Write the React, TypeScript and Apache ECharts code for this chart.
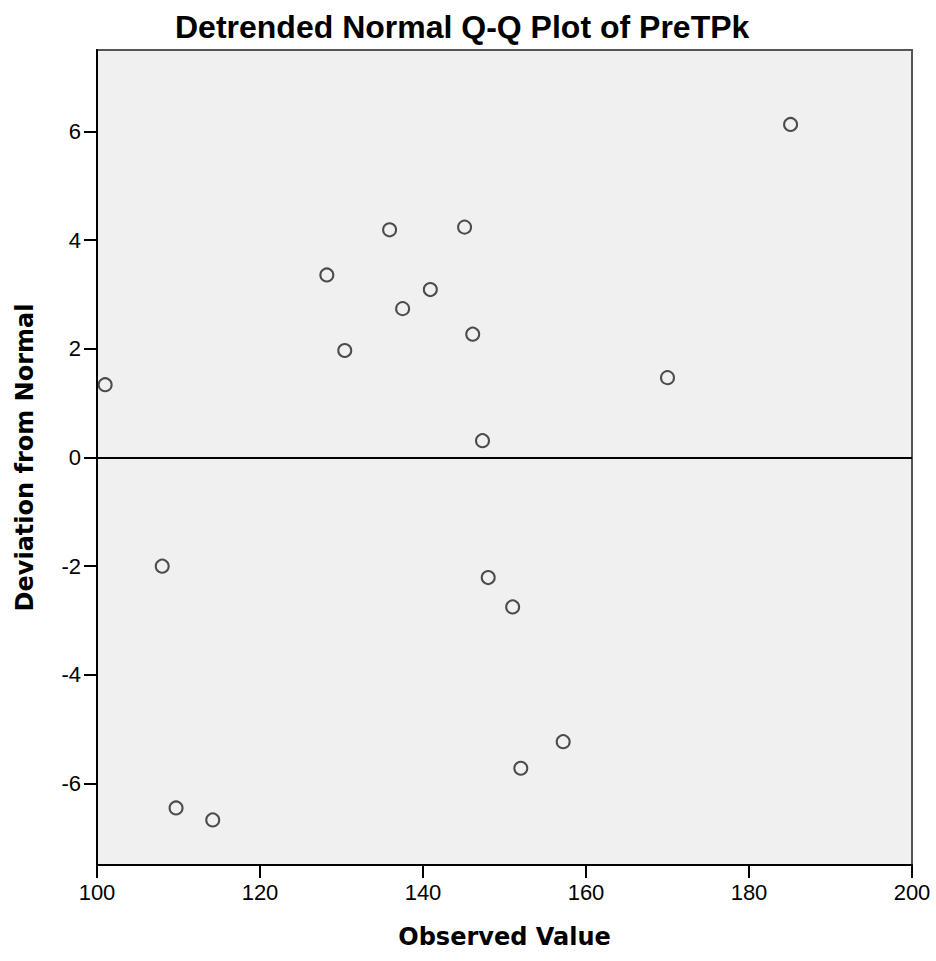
import React, { useEffect, useRef } from "react";
import * as echarts from "echarts";

const observedValues = [185.1, 135.9, 145.1, 128.2, 140.9, 137.5, 146.1, 130.4, 101.0, 170.0, 147.3, 108.0, 148.0, 151.0, 157.2, 152.0, 109.7, 114.2];
const deviations = [6.13, 4.19, 4.24, 3.36, 3.09, 2.74, 2.27, 1.97, 1.34, 1.47, 0.31, -2.0, -2.21, -2.75, -5.23, -5.72, -6.45, -6.67];
const yTicks = [-6, -4, -2, 0, 2, 4, 6];
const xTicks = [100, 120, 140, 160, 180, 200];

export default function App() {
  const ref = useRef<HTMLDivElement>(null);
  useEffect(() => {
    if (!ref.current) return;
    const chart = echarts.init(ref.current, null, { renderer: "svg" });
    const data = observedValues.map((x, i) => [x, deviations[i]]);
    chart.setOption({
      animation: false,
      backgroundColor: "#ffffff",
      title: {
        text: "Detrended Normal Q-Q Plot of PreTPk",
        left: 170,
        top: 6,
        textStyle: {
          fontFamily: "Liberation Sans, Arial, sans-serif",
          fontWeight: "bold",
          fontSize: 32,
          color: "#000",
        },
      },
      grid: {
        left: 97,
        right: 24,
        top: 50,
        bottom: 96,
        show: true,
        backgroundColor: "#f0f0f0",
        borderColor: "#555",
        borderWidth: 2,
      },
      xAxis: {
        type: "value",
        min: xTicks[0],
        max: xTicks[xTicks.length - 1],
        interval: 20,
        name: "Observed Value",
        nameLocation: "middle",
        nameGap: 60,
        nameTextStyle: {
          fontFamily: "DejaVu Sans, Verdana, sans-serif",
          fontWeight: "bold",
          fontSize: 24,
          color: "#000",
        },
        axisLine: { show: true, onZero: false, lineStyle: { color: "#000", width: 2 } },
        axisTick: { show: true, length: 13, lineStyle: { color: "#000", width: 2 } },
        axisLabel: {
          margin: 16,
          fontFamily: "Liberation Sans, Arial, sans-serif",
          fontSize: 22,
          color: "#000",
        },
        splitLine: { show: false },
      },
      yAxis: {
        type: "value",
        min: -7.5,
        max: 7.5,
        name: "Deviation from Normal",
        nameLocation: "middle",
        nameGap: 60,
        nameTextStyle: {
          fontFamily: "DejaVu Sans, Verdana, sans-serif",
          fontWeight: "bold",
          fontSize: 24,
          color: "#000",
        },
        axisLine: { show: true, onZero: false, lineStyle: { color: "#000", width: 2 } },
        axisTick: { show: true, length: 13, customValues: yTicks, lineStyle: { color: "#000", width: 2 } },
        axisLabel: {
          margin: 16,
          customValues: yTicks,
          fontFamily: "Liberation Sans, Arial, sans-serif",
          fontSize: 22,
          color: "#000",
        },
        splitLine: { show: false },
      },
      series: [
        {
          type: "scatter",
          data,
          symbol: "circle",
          symbolSize: 13,
          itemStyle: { color: "rgba(0,0,0,0)", borderColor: "#222", borderWidth: 2 },
          markLine: {
            silent: true,
            symbol: "none",
            label: { show: false },
            lineStyle: { color: "#000", width: 2, type: "solid" },
            data: [{ yAxis: 0 }],
          },
        },
      ],
    });
    return () => chart.dispose();
  }, []);
  return (
    <div
      ref={ref}
      style={{ position: "fixed", left: 0, top: 0, width: 936, height: 961, background: "#fff" }}
    />
  );
}
